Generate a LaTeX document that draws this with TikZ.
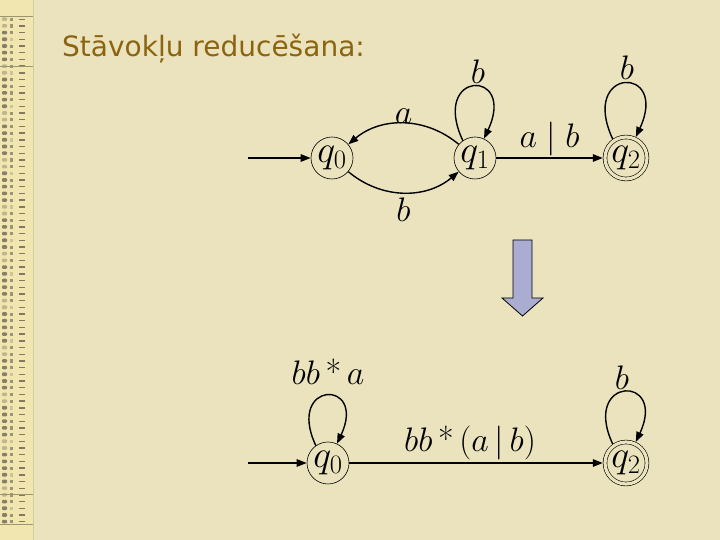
\documentclass[tikz,border=0pt]{standalone}
\usepackage{fix-cm}
\usepackage{fontspec}
\newfontfamily\titelfont{DejaVu Sans}
\usetikzlibrary{arrows.meta}

\definecolor{hintergrund}{RGB}{234,227,189}
\definecolor{streifen}{RGB}{241,229,176}
\definecolor{titelfarbe}{RGB}{140,100,16}
\definecolor{pfeilblau}{RGB}{170,172,210}
\definecolor{markierung}{RGB}{100,94,80}

\tikzset{
    zustand/.style={circle, draw, line width=0.6pt, minimum size=42pt, inner sep=0pt, font=\fontsize{38}{44}\selectfont},
    endzustand/.style={zustand, double=hintergrund, double distance=3.2pt, outer sep=2.2pt},
    uebergang/.style={line width=1.4pt, -{Triangle[length=10pt,width=7.5pt]}},
    beschriftung/.style={font=\fontsize{34}{40}\selectfont, inner sep=2pt}
}

\begin{document}
\begin{tikzpicture}[x=1pt,y=1pt]
    %Hintergrund
    \fill[hintergrund] (0,0) rectangle (720,540);
    \useasboundingbox (0,0) rectangle (720,540);

    %Streifen links
    \fill[streifen] (0,0) rectangle (33,540);
    \foreach \i in {0,...,75} {
        \pgfmathsetmacro{\y}{519-6.7*\i}
        \pgfmathtruncatemacro{\d}{mod(\i,7)<2 ? 35 : 75}
        \pgfmathtruncatemacro{\e}{mod(\i,5)==3 ? 25 : 60}
        \fill[markierung!\d!streifen, rounded corners=1pt] (2,\y) rectangle (7,\y+3.6);
        \fill[markierung!\e!streifen] (10,\y) rectangle (13,\y+3.2);
        \fill[markierung!80!streifen] (19,\y+1) rectangle (25,\y+2.4);
    }
    \foreach \y in {523,473,45,15} {
        \draw[markierung!60!streifen, line width=1pt] (0,\y) -- (33,\y);
    }
    \draw[markierung!20!streifen] (33,0) -- (33,540);

    %Titel
    \node[anchor=base west, text=titelfarbe, font=\titelfont\fontsize{28}{32}\selectfont, inner sep=0pt] (titel) at (62,483) {Stāvokļu reducēšana:};

    %Automat oben
    \node[zustand] (q0) at (332,382) {$q_0$};
    \node[zustand] (q1) at (475,382) {$q_1$};
    \node[endzustand] (q2) at (626,382) {$q_2$};
    \coordinate (s0) at (248,382);

    \draw[uebergang] (s0) -- (q0);
    \draw[uebergang] (q1) to[bend right=40] node[beschriftung, above=-3pt] (la) {$a$} (q0);
    \draw[uebergang] (q0) to[bend right=40] node[beschriftung, below=3pt] (lb) {$b$} (q1);
    \draw[uebergang] (q1.125) .. controls +(115:78) and +(65:78) .. (q1.65);
    \node[beschriftung] (lb1) at (478,468) {$b$};
    \draw[uebergang] (q1) -- node[beschriftung, above=-1pt] (lab) {$a\mid b$} (q2);
    \draw[uebergang] (q2.125) .. controls +(115:80) and +(65:80) .. (q2.65);
    \node[beschriftung] (lb2) at (627,472) {$b$};

    %Blockpfeil
    \draw[fill=pfeilblau, line width=0.8pt] (513,300) -- (532,300) -- (532,242) -- (543,242) -- (522.5,224) -- (502,242) -- (513,242) -- cycle;

    %Automat unten
    \node[zustand] (p0) at (328,77) {$q_0$};
    \node[endzustand] (p2) at (626,77) {$q_2$};
    \coordinate (s1) at (248,77);

    \draw[uebergang] (s1) -- (p0);
    \draw[uebergang] (p0.125) .. controls +(115:72) and +(65:72) .. (p0.65);
    \node[beschriftung] (lbba) at (328,168) {$bb\,\mbox{*}\,a$};
    \draw[uebergang] (p0) -- node[beschriftung, above=0pt, xshift=-6pt] (lbbab) {$bb\,\mbox{*}\,(a\,|\,b)$} (p2);
    \draw[uebergang] (p2.125) .. controls +(115:75) and +(65:75) .. (p2.65);
    \node[beschriftung] (lb3) at (622,162) {$b$};
\end{tikzpicture}
\end{document}
